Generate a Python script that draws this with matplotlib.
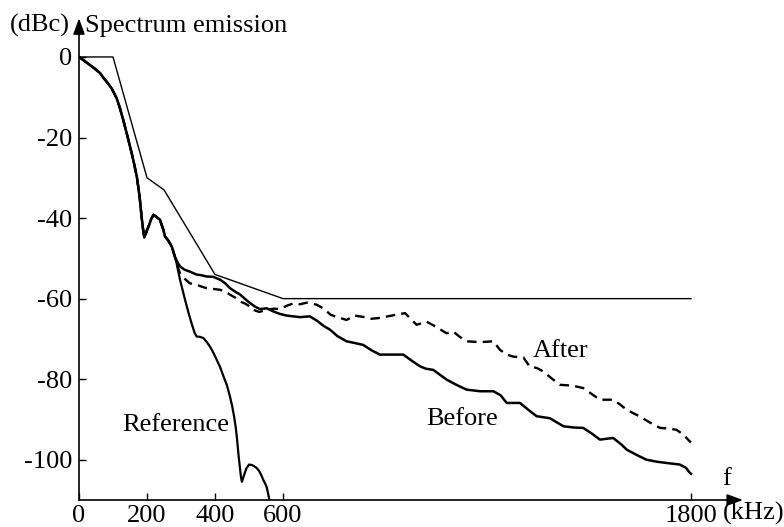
import matplotlib
matplotlib.use("Agg")
import matplotlib.pyplot as plt
from matplotlib.patches import ArrowStyle

plt.rcParams['font.family'] = ['Liberation Serif', 'DejaVu Serif']

# Shared start of all measured spectra (kHz, dBc)
common_f = [0, 15, 32, 45, 62, 72, 81, 96, 111, 120, 130, 142, 155, 162, 170, 178,
            184, 188, 192, 196, 200, 206, 212, 219, 226, 238, 248, 253, 262, 273, 282]
common_db = [0, -0.9, -2, -2.8, -4, -5.2, -6.1, -7.8, -10.3, -12.6, -15.6, -19.5, -23.9,
             -26.5, -29.7, -34.5, -39.6, -42.5, -44.8, -44, -43, -41.8, -40.3, -39.2,
             -39.6, -40.4, -42.9, -44.6, -45.5, -47.1, -49.6]

# Reference signal tail
ref_f = [287, 297, 312, 322, 331, 340, 346, 356, 366, 376, 385, 395, 405, 415, 425,
         435, 444, 450, 456, 461, 464, 470, 476, 479, 484, 492, 500, 508, 515, 522,
         530, 537, 542, 548, 552, 556, 560]
ref_db = [-51.2, -55.3, -60.3, -63.5, -66.1, -68.5, -69.4, -69.5, -69.8, -70.8, -71.9,
          -73.4, -75.2, -77, -79.3, -81.5, -84.3, -86.5, -89.2, -92, -94.2, -99.5,
          -104, -105.5, -104.2, -102.2, -101.2, -101.3, -101.6, -102, -102.8, -104,
          -105, -106, -106.8, -108.3, -110]

# Emission before correction
before_f = [290, 297, 310, 326, 345, 360, 375, 395, 415, 430, 444, 460, 474, 490, 503,
            518, 532, 552, 572, 591, 610, 630, 650, 679, 700, 720, 738, 760, 787, 810,
            836, 860, 885, 920, 954, 980, 1003, 1020, 1042, 1060, 1081, 1110, 1140,
            1180, 1219, 1240, 1258, 1297, 1320, 1346, 1385, 1425, 1455, 1483, 1510,
            1532, 1571, 1595, 1611, 1640, 1669, 1700, 1728, 1767, 1785, 1797, 1800]
before_db = [-51.0, -52, -52.8, -53.3, -54, -54.2, -54.5, -54.6, -55.3, -56.2, -57.4,
             -58.3, -59, -60.2, -61.1, -62, -62.6, -62.4, -63.2, -63.8, -64.2, -64.4,
             -64.6, -64.4, -65.5, -66.8, -67.7, -69.3, -70.6, -71, -71.5, -72.8, -73.9,
             -73.9, -73.9, -75.5, -76.8, -77.4, -77.7, -78.8, -80.1, -81.4, -82.6, -83,
             -83, -84, -85.9, -85.9, -87.5, -89.2, -89.7, -91.7, -92, -92.1, -93.6, -95,
             -94.6, -96.2, -97.5, -98.8, -100, -100.5, -100.8, -101.2, -102, -103.3,
             -103.5]

# Emission after correction
after_f = [290, 297, 310, 326, 345, 360, 375, 395, 415, 430, 444, 460, 474, 490, 503,
           513, 530, 552, 572, 591, 610, 630, 650, 670, 699, 720, 740, 760, 787, 810,
           840, 860, 885, 920, 959, 975, 993, 1022, 1050, 1081, 1101, 1120, 1140, 1180,
           1219, 1238, 1258, 1277, 1307, 1326, 1346, 1366, 1390, 1415, 1450, 1483,
           1510, 1532, 1571, 1590, 1611, 1650, 1680, 1709, 1740, 1758, 1778, 1797, 1800]
after_db = [-52, -53.7, -55, -56.2, -56.5, -57, -57.4, -57.6, -57.8, -58.3, -59, -59.8,
            -60.7, -61.3, -62, -62.8, -63.3, -62.8, -62.5, -62.6, -61.8, -61.2, -61.4,
            -61, -61.5, -62.5, -64, -64.6, -65.3, -64.2, -64.6, -65, -64.8, -64.2,
            -63.6, -65, -66.5, -65.7, -67, -68.6, -68.2, -69.5, -70.6, -70.8, -70.6,
            -72.7, -73.9, -74.4, -74.6, -76.9, -77.2, -78.1, -79.8, -81.4, -81.6,
            -82.2, -83.8, -85.1, -85.1, -86.2, -87.6, -89.3, -90.8, -92.1, -92.3,
            -92.6, -93.8, -95.5, -95.7]

# Spectrum emission mask
mask_f = [0, 100, 200, 250, 400, 600, 1800]
mask_db = [0, 0, -30, -33, -54, -60, -60]

x_ticks = [0, 200, 400, 600, 1800]
y_ticks = [0, -20, -40, -60, -80, -100]

fig = plt.figure(figsize=(7.84, 5.27), dpi=100)
ax = fig.add_axes([79 / 784, 1 - 500 / 527, (743 - 79) / 784, (500 - 18.3) / 527])
x_end, y_bot, y_top = 1953, -110, 9.6
ax.set_xlim(0, x_end)
ax.set_ylim(y_bot, y_top)
for s in ax.spines.values():
    s.set_visible(False)

fs = 19
ax.plot(mask_f, mask_db, color='black', lw=1.0)
ax.plot(common_f + ref_f, common_db + ref_db, color='black', lw=1.6)
ax.plot(common_f + before_f, common_db + before_db, color='black', lw=1.8)
ax.plot(common_f + after_f, common_db + after_db, color='black', lw=1.7,
        linestyle=(0, (4, 2.6)))

# Axes drawn as arrows
style = ArrowStyle('-|>', head_length=0.6, head_width=0.22)
arrow_kw = dict(arrowstyle=style, color='black', lw=1.2, mutation_scale=16,
                shrinkA=0, shrinkB=0)
ax.annotate('', xy=(x_end, y_bot), xytext=(0, y_bot), arrowprops=arrow_kw,
            annotation_clip=False)
ax.annotate('', xy=(0, y_top), xytext=(0, y_bot), arrowprops=arrow_kw,
            annotation_clip=False)

ax.set_xticks(x_ticks)
ax.set_xticklabels([str(t) for t in x_ticks])
ax.set_yticks(y_ticks)
ax.set_yticklabels([str(t) for t in y_ticks])
ax.tick_params(axis='both', direction='in', length=5, width=1.0, color='black',
               labelsize=fs)
ax.tick_params(axis='x', pad=3.5)
ax.tick_params(axis='y', pad=5)

ax.text(-26, 6.3, '(dBc)', fontsize=fs, ha='right', va='baseline', clip_on=False)
ax.text(18, 6.3, 'Spectrum emission', fontsize=fs, ha='left', va='baseline', clip_on=False)
ax.text(1905, -106.2, 'f', fontsize=fs, ha='center', va='baseline')
ax.text(1893, -114.9, '(kHz)', fontsize=fs, ha='left', va='baseline', clip_on=False)
ax.text(285, -92.9, 'Reference', fontsize=fs, ha='center', va='baseline')
ax.text(1126, -91.3, 'Before', fontsize=fs, ha='center', va='baseline')
ax.text(1415, -74.4, 'After', fontsize=fs, ha='center', va='baseline')

fig.savefig('out.png', dpi=100)
